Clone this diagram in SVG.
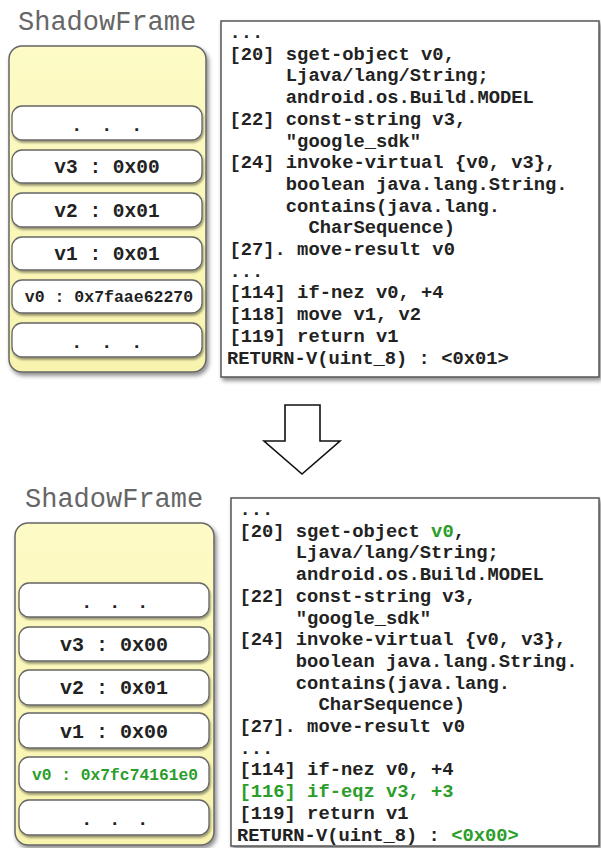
<svg xmlns="http://www.w3.org/2000/svg" width="601" height="848" viewBox="0 0 601 848">
<defs>
<filter id="sh" x="-10%" y="-10%" width="130%" height="130%">
<feDropShadow dx="2" dy="3" stdDeviation="2" flood-color="#000" flood-opacity="0.45"/>
</filter>
<filter id="sh2" x="-10%" y="-20%" width="130%" height="160%">
<feDropShadow dx="1" dy="2" stdDeviation="1.2" flood-color="#000" flood-opacity="0.4"/>
</filter>
<linearGradient id="yg" x1="0" y1="0" x2="0" y2="1">
<stop offset="0" stop-color="#fdfbc6"/>
<stop offset="1" stop-color="#f8f3ae"/>
</linearGradient>
</defs>
<style>
.title{font-family:"Liberation Mono","Courier New",monospace;font-size:27px;fill:#666}
.frame{fill:url(#yg);stroke:#666;stroke-width:1.5;filter:url(#sh)}
.row{fill:#fff;stroke:#666;stroke-width:1.3;filter:url(#sh2)}
.rt{font-family:"Liberation Mono","Courier New",monospace;font-weight:bold;fill:#222;text-anchor:middle}
.dots{font-family:"Liberation Mono","Courier New",monospace;font-weight:bold;fill:#222;font-size:19px}
.code{fill:#fff;stroke:#555;stroke-width:1.5;filter:url(#sh)}
.ct{font-family:"Liberation Mono","Courier New",monospace;font-weight:bold;fill:#222;font-size:18.8px;white-space:pre}
.g{fill:#2a9d2a}
</style>

<!-- Top section -->
<g id="top-frame">
<text class="title" x="18" y="30">ShadowFrame</text>
<rect class="frame" x="9" y="46" width="197" height="326" rx="13"/>
</g>
<g id="top-row-dots1">
<rect class="row" x="12" y="106" width="190" height="34" rx="10"/>
<text class="dots" x="71 101 131" y="131">...</text>
</g>
<g id="top-row-v3">
<rect class="row" x="12" y="150" width="190" height="33" rx="10"/>
<text class="rt" x="107" y="173" font-size="19.5">v3 : 0x00</text>
</g>
<g id="top-row-v2">
<rect class="row" x="12" y="193" width="190" height="34" rx="10"/>
<text class="rt" x="107" y="216.5" font-size="19.5">v2 : 0x01</text>
</g>
<g id="top-row-v1">
<rect class="row" x="12" y="237" width="190" height="33" rx="10"/>
<text class="rt" x="107" y="260" font-size="19.5">v1 : 0x01</text>
</g>
<g id="top-row-v0">
<rect class="row" x="12" y="280" width="190" height="33" rx="10"/>
<text class="rt" x="109" y="302" font-size="16.5">v0 : 0x7faae62270</text>
</g>
<g id="top-row-dots2">
<rect class="row" x="12" y="323" width="190" height="34" rx="10"/>
<text class="dots" x="71 101 131" y="348">...</text>
</g>
<g id="top-code">
<rect class="code" x="221" y="21" width="378" height="356"/>
<text class="ct" x="229.5" y="38">...</text>
<text class="ct" x="229.5" y="59.7">[20] sget-object v0,</text>
<text class="ct" x="229.5" y="81.4">     Ljava/lang/String;</text>
<text class="ct" x="229.5" y="103.1">     android.os.Build.MODEL</text>
<text class="ct" x="229.5" y="124.8">[22] const-string v3,</text>
<text class="ct" x="229.5" y="146.5">     "google_sdk"</text>
<text class="ct" x="229.5" y="168.2">[24] invoke-virtual {v0, v3},</text>
<text class="ct" x="229.5" y="189.9">     boolean java.lang.String.</text>
<text class="ct" x="229.5" y="211.6">     contains(java.lang.</text>
<text class="ct" x="229.5" y="233.3">       CharSequence)</text>
<text class="ct" x="229.5" y="255">[27]. move-result v0</text>
<text class="ct" x="229.5" y="276.7">...</text>
<text class="ct" x="229.5" y="298.4">[114] if-nez v0, +4</text>
<text class="ct" x="229.5" y="320.1">[118] move v1, v2</text>
<text class="ct" x="229.5" y="341.8">[119] return v1</text>
<text class="ct" x="227" y="363.5">RETURN-V(uint_8) : &lt;0x01&gt;</text>
</g>

<!-- Connector -->
<g id="connectors">
<path d="M285 405 H320 V441 H340 L302 474 L264 441 H285 Z" fill="#fff" stroke="#111" stroke-width="1.6" stroke-linejoin="miter"/>
</g>

<!-- Bottom section -->
<g id="bottom-frame">
<text class="title" x="25" y="507">ShadowFrame</text>
<rect class="frame" x="15" y="523" width="199" height="322" rx="13"/>
</g>
<g id="bottom-row-dots1">
<rect class="row" x="19" y="583" width="190" height="34" rx="10"/>
<text class="dots" x="81 109 137" y="608">...</text>
</g>
<g id="bottom-row-v3">
<rect class="row" x="19" y="627" width="190" height="34" rx="10"/>
<text class="rt" x="114" y="650.5" font-size="20">v3 : 0x00</text>
</g>
<g id="bottom-row-v2">
<rect class="row" x="19" y="670" width="190" height="35" rx="10"/>
<text class="rt" x="114" y="694" font-size="20">v2 : 0x01</text>
</g>
<g id="bottom-row-v1">
<rect class="row" x="19" y="713" width="190" height="35" rx="10"/>
<text class="rt" x="114" y="737.5" font-size="20">v1 : 0x00</text>
</g>
<g id="bottom-row-v0">
<rect class="row" x="19" y="757" width="190" height="35" rx="10"/>
<text class="rt g" x="115" y="780" font-size="16.3">v0 : 0x7fc74161e0</text>
</g>
<g id="bottom-row-dots2">
<rect class="row" x="19" y="800" width="190" height="35" rx="10"/>
<text class="dots" x="81 109 137" y="825">...</text>
</g>
<g id="bottom-code">
<rect class="code" x="231" y="498" width="368" height="348"/>
<text class="ct" x="239.5" y="515">...</text>
<text class="ct" x="239.5" y="536.7">[20] sget-object <tspan class="g">v0</tspan>,</text>
<text class="ct" x="239.5" y="558.4">     Ljava/lang/String;</text>
<text class="ct" x="239.5" y="580.1">     android.os.Build.MODEL</text>
<text class="ct" x="239.5" y="601.8">[22] const-string v3,</text>
<text class="ct" x="239.5" y="623.5">     "google_sdk"</text>
<text class="ct" x="239.5" y="645.2">[24] invoke-virtual {v0, v3},</text>
<text class="ct" x="239.5" y="666.9">     boolean java.lang.String.</text>
<text class="ct" x="239.5" y="688.6">     contains(java.lang.</text>
<text class="ct" x="239.5" y="710.3">       CharSequence)</text>
<text class="ct" x="239.5" y="732">[27]. move-result v0</text>
<text class="ct" x="239.5" y="753.7">...</text>
<text class="ct" x="239.5" y="775.4">[114] if-nez v0, +4</text>
<text class="ct g" x="239.5" y="797.1">[116] if-eqz v3, +3</text>
<text class="ct" x="239.5" y="818.8">[119] return v1</text>
<text class="ct" x="237" y="840.5">RETURN-V(uint_8) : <tspan class="g">&lt;0x00&gt;</tspan></text>
</g>
</svg>
